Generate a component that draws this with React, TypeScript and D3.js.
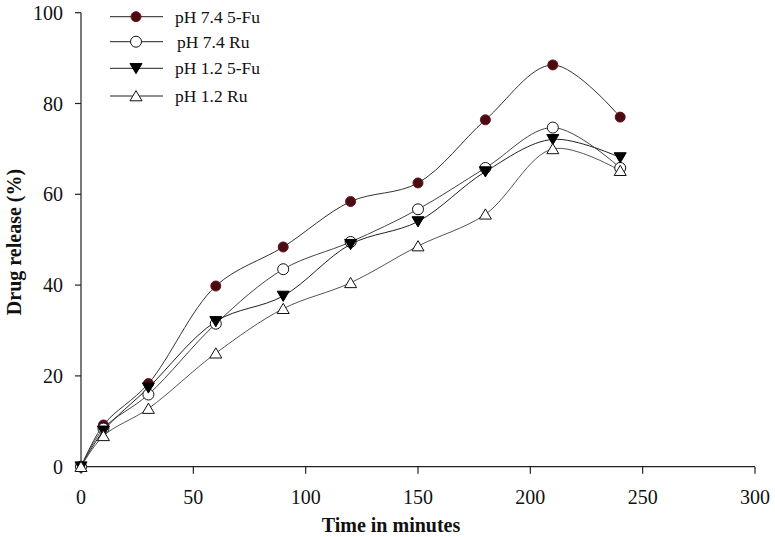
import React from "react";
import * as d3 from "d3";

const times = [0, 10, 30, 60, 90, 120, 150, 180, 210, 240];
const ph74Fu = [0, 9.2, 18.3, 39.8, 48.4, 58.4, 62.5, 76.4, 88.5, 77.0];
const ph74Ru = [0, 8.4, 15.9, 31.5, 43.5, 49.5, 56.7, 65.8, 74.7, 65.8];
const ph12Fu = [0, 7.9, 17.4, 32.0, 37.6, 49.0, 54.0, 65.0, 72.1, 68.1];
const ph12Ru = [0, 6.8, 12.8, 25.0, 34.8, 40.5, 48.6, 55.6, 70.0, 65.2];
const seriesNames = ["pH 7.4 5-Fu", "pH 7.4 Ru", "pH 1.2 5-Fu", "pH 1.2 Ru"];
const xTicks = [0, 50, 100, 150, 200, 250, 300];
const yTicks = [0, 20, 40, 60, 80, 100];

const W = 775, H = 537;
const x = d3.scaleLinear().domain([0, 300]).range([81, 755]);
const y = d3.scaleLinear().domain([0, 100]).range([466.7, 12.7]);

const FONT = "Liberation Serif, Times New Roman, serif";

type Kind = "dot" | "circle" | "down" | "up";
const kinds: Kind[] = ["dot", "circle", "down", "up"];
const lineColors = ["#333", "#444", "#222", "#4a5a4a"];

function Marker({ kind, cx, cy }: { kind: Kind; cx: number; cy: number }) {
  if (kind === "dot") return <circle cx={cx} cy={cy} r={5} fill="#4a0b12" stroke="#6a1420" strokeWidth={1} />;
  if (kind === "circle") return <circle cx={cx} cy={cy} r={5.5} fill="#fff" stroke="#111" strokeWidth={1} />;
  const s = 6;
  if (kind === "down") {
    const p = `M${cx - s},${cy - s * 0.8}L${cx + s},${cy - s * 0.8}L${cx},${cy + s * 0.9}Z`;
    return <path d={p} fill="#000" stroke="#000" strokeWidth={1} />;
  }
  const p = `M${cx - s},${cy + s * 0.8}L${cx + s},${cy + s * 0.8}L${cx},${cy - s * 0.9}Z`;
  return <path d={p} fill="#fff" stroke="#111" strokeWidth={1} />;
}

export default function App() {
  const data = [ph74Fu, ph74Ru, ph12Fu, ph12Ru];
  const line = d3
    .line<number>()
    .x((_, i) => x(times[i]))
    .y((d) => y(d))
    .curve(d3.curveCatmullRom.alpha(0.5));
  const y0 = y(0);
  const ts = { fontFamily: FONT };
  return (
    <svg width={W} height={H} style={{ position: "absolute", left: 0, top: 0 }}>
      <rect width={W} height={H} fill="#fff" />
      <line x1={x(0)} x2={x(300)} y1={y0} y2={y0} stroke="#222" strokeWidth={1.2} />
      <line x1={x(0)} x2={x(0)} y1={y0} y2={y(100)} stroke="#222" strokeWidth={1.2} />
      {xTicks.map((t) => (
        <g key={"x" + t}>
          <line x1={x(t)} x2={x(t)} y1={y0} y2={y0 + 7} stroke="#222" strokeWidth={1.2} />
          <text x={x(t)} y={504} textAnchor="middle" fontSize={20} fill="#111" style={ts}>{t}</text>
        </g>
      ))}
      {yTicks.map((t) => (
        <g key={"y" + t}>
          <line x1={x(0) - 6} x2={x(0)} y1={y(t)} y2={y(t)} stroke="#222" strokeWidth={1.2} />
          <text x={63} y={y(t) + 7} textAnchor="end" fontSize={20} fill="#111" style={ts}>{t}</text>
        </g>
      ))}
      <text x={391} y={532} textAnchor="middle" fontSize={20} fontWeight="bold" fill="#111" style={ts}>Time in minutes</text>
      <text transform={`translate(21,242) rotate(-90)`} textAnchor="middle" fontSize={20} fontWeight="bold" fill="#111" style={ts}>Drug release (%)</text>
      {data.map((vals, si) => (
        <path key={"l" + si} d={line(vals) || ""} fill="none" stroke={lineColors[si]} strokeWidth={1} />
      ))}
      {data.map((vals, si) => (
        <g key={"m" + si}>
          {vals.map((v, i) => (
            <Marker key={i} kind={kinds[si]} cx={x(times[i])} cy={y(v)} />
          ))}
        </g>
      ))}
      {seriesNames.map((n, i) => {
        const ly = [16.7, 41.7, 68.3, 96][i];
        return (
          <g key={"lg" + i}>
            <line x1={110} x2={163} y1={ly} y2={ly} stroke="#222" strokeWidth={1} />
            <Marker kind={kinds[i]} cx={136} cy={ly} />
            <text x={i === 1 ? 177 : 175} y={ly + 6} fontSize={17.5} fill="#111" style={ts}>{n}</text>
          </g>
        );
      })}
    </svg>
  );
}
